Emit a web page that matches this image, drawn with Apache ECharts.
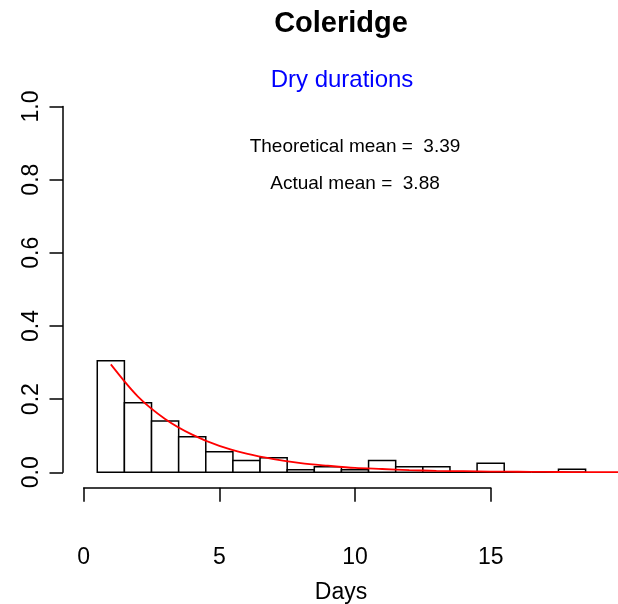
<!DOCTYPE html>
<html>
<head>
<meta charset="utf-8">
<script src="https://cdn.jsdelivr.net/npm/echarts@6/dist/echarts.min.js"></script>
<style>html,body{margin:0;padding:0;background:#fff}#c{width:618px;height:604px}</style>
</head>
<body>
<div id="c"></div>
<script>
// Histogram bins (centres, width 1) and densities
var binCentres = [1,2,3,4,5,6,7,8,9,10,11,12,13,14,15,16,17,18];
var densities  = [0.305,0.190,0.140,0.097,0.056,0.032,0.040,0.007,0.015,0.007,0.032,0.015,0.015,0,0.025,0,0,0.008];
// Red theoretical curve
var curveX = [1,2,3,4,5,6,7,8,9,10,11,12,13,14,15,16,17,18,19,20];
var curveY = [0.295,0.207,0.146,0.103,0.072,0.051,0.036,0.025,0.018,0.012,0.009,0.006,0.004,0.003,0.002,0.0015,0.001,0.0007,0.0005,0.0003];
var xTicks = [0,5,10,15];
var yTicks = [0,0.2,0.4,0.6,0.8,1.0];
var titleText = 'Coleridge';
var subText = 'Dry durations';
var xLabel = 'Days';
var note1 = 'Theoretical mean =  3.39';
var note2 = 'Actual mean =  3.88';

var FONT = '"Liberation Sans", Arial, Helvetica, sans-serif';
var chart = echarts.init(document.getElementById('c'));

var barData = binCentres.map(function(c,i){return [c, densities[i]];});
var curveData = curveX.map(function(x,i){return [x, curveY[i]];});

chart.setOption({
  animation:false,
  backgroundColor:'#fff',
  grid:[
    {left:63, right:0, top:106.5, bottom:131.7, containLabel:false},
    {left:83.7, right:127.3, top:106.5, bottom:131.7, containLabel:false}
  ],
  xAxis:[
    {gridIndex:0, type:'value', min:-0.763, max:-0.763 + 555/27.13, show:false},
    {gridIndex:1, type:'value', min:0, max:15, interval:5, position:'bottom', offset:15.4,
     axisLine:{show:true, onZero:false, lineStyle:{color:'#000', width:1.5}},
     axisTick:{show:true, length:14, lineStyle:{color:'#000', width:1.5}},
     axisLabel:{show:true, color:'#000', fontSize:23, fontFamily:FONT, margin:58},
     splitLine:{show:false}}
  ],
  yAxis:[
    {gridIndex:0, type:'value', min:0, max:1, interval:0.2,
     axisLine:{show:true, onZero:false, lineStyle:{color:'#000', width:1.5}},
     axisTick:{show:true, length:13.5, lineStyle:{color:'#000', width:1.5}},
     axisLabel:{show:true, color:'#000', fontSize:23, fontFamily:FONT, rotate:90, margin:20,
       formatter:function(v){return v.toFixed(1);}},
     splitLine:{show:false}},
    {gridIndex:1, type:'value', min:0, max:1, show:false}
  ],
  series:[
    {type:'custom', xAxisIndex:0, yAxisIndex:0, data:barData, clip:false,
     renderItem:function(params, api){
       var x = api.value(0), v = api.value(1);
       var p0 = api.coord([x-0.5, v]);
       var p1 = api.coord([x+0.5, 0]);
       return {type:'rect', shape:{x:p0[0], y:p0[1], width:p1[0]-p0[0], height:p1[1]-p0[1]},
         style:{fill:'#fff', stroke:'#000', lineWidth:1.5}};
     }},
    {type:'line', xAxisIndex:0, yAxisIndex:0, data:curveData, symbol:'none', smooth:0.3, z:5,
     lineStyle:{color:'#ff0000', width:1.8}}
  ],
  graphic:[
    {type:'text', x:341, y:24, style:{text:titleText, font:'bold 29px '+FONT, fill:'#000', align:'center', verticalAlign:'middle'}},
    {type:'text', x:342, y:80.5, style:{text:subText, font:'24px '+FONT, fill:'#0000ff', align:'center', verticalAlign:'middle'}},
    {type:'text', x:355, y:147, style:{text:note1, font:'19px '+FONT, fill:'#000', align:'center', verticalAlign:'middle'}},
    {type:'text', x:355, y:184, style:{text:note2, font:'19px '+FONT, fill:'#000', align:'center', verticalAlign:'middle'}},
    {type:'text', x:341, y:593, style:{text:xLabel, font:'23px '+FONT, fill:'#000', align:'center', verticalAlign:'middle'}}
  ]
});
</script>
</body>
</html>
